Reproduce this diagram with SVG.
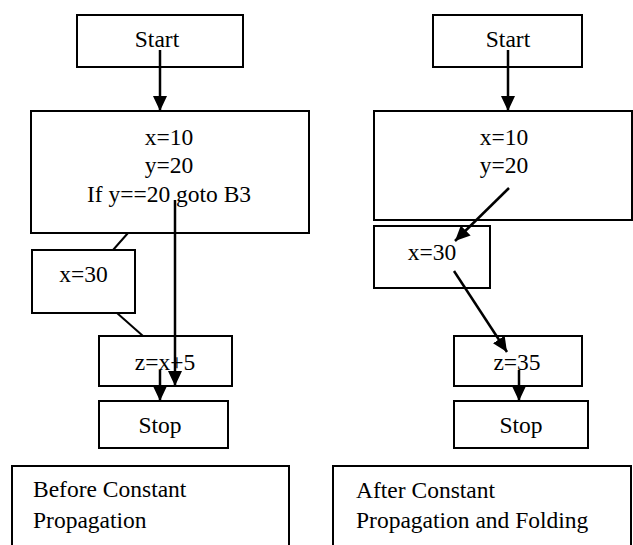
<svg xmlns="http://www.w3.org/2000/svg" width="633" height="545" viewBox="0 0 633 545">
<style>
.box{fill:#fff;stroke:#000;stroke-width:2}
.t{font-family:"Liberation Serif","Times New Roman",serif;font-size:23.5px;fill:#000}
.m{text-anchor:middle}
.ln{stroke:#000;stroke-width:2;fill:none}
.ar{stroke:#000;stroke-width:2.5;fill:none;marker-end:url(#ah)}
</style>
<defs>
<marker id="ah" markerUnits="userSpaceOnUse" viewBox="0 0 15 14" markerWidth="15" markerHeight="14" refX="15" refY="7" orient="auto">
<path d="M0,0 L15,7 L0,14 z" fill="#000"/>
</marker>
</defs>
<rect width="633" height="545" fill="#fff"/>
<g id="left-start"><rect class="box" x="77" y="15" width="166" height="52"/><text class="t m" x="157" y="47">Start</text></g>
<g id="left-b1"><rect class="box" x="31" y="111" width="278" height="122"/><text class="t m" x="169" y="145">x=10</text><text class="t m" x="169" y="173">y=20</text><text class="t m" x="169" y="202">If y==20 goto B3</text></g>
<g id="left-b2"><rect class="box" x="32" y="250" width="103" height="63"/><text class="t m" x="83.5" y="282">x=30</text></g>
<g id="left-b3"><rect class="box" x="99" y="336" width="133" height="50"/><text class="t m" x="165" y="370">z=x+5</text></g>
<g id="left-stop"><rect class="box" x="99" y="401" width="129" height="47"/><text class="t m" x="160" y="433">Stop</text></g>
<g id="left-caption"><rect class="box" x="12" y="466" width="277" height="100"/><text class="t" x="33" y="497">Before Constant</text><text class="t" x="33" y="528">Propagation</text></g>
<g id="right-start"><rect class="box" x="433" y="15" width="149" height="52"/><text class="t m" x="508" y="47">Start</text></g>
<g id="right-b1"><rect class="box" x="374" y="111" width="258" height="109"/><text class="t m" x="504" y="145">x=10</text><text class="t m" x="504" y="173">y=20</text></g>
<g id="right-b2"><rect class="box" x="374" y="226" width="116" height="62"/><text class="t m" x="432" y="260">x=30</text></g>
<g id="right-b3"><rect class="box" x="454" y="336" width="128" height="50"/><text class="t m" x="517" y="370">z=35</text></g>
<g id="right-stop"><rect class="box" x="454" y="401" width="134" height="47"/><text class="t m" x="521" y="433">Stop</text></g>
<g id="right-caption"><rect class="box" x="333" y="466" width="298" height="100"/><text class="t" x="356" y="498">After Constant</text><text class="t" x="356" y="528">Propagation and Folding</text></g>
<g id="connectors">
<line class="ar" x1="160" y1="50" x2="160" y2="111"/>
<line class="ln" x1="128" y1="233" x2="113" y2="250"/>
<line class="ln" x1="117" y1="313" x2="143" y2="336"/>
<line class="ar" x1="175" y1="200" x2="175" y2="386"/>
<line class="ar" x1="160" y1="370" x2="160" y2="401"/>
<line class="ar" x1="508" y1="50" x2="508" y2="111"/>
<line class="ar" x1="509" y1="188" x2="455" y2="241"/>
<line class="ar" x1="454" y1="271" x2="507" y2="352"/>
<line class="ar" x1="519" y1="370" x2="519" y2="401"/>
</g>
</svg>
